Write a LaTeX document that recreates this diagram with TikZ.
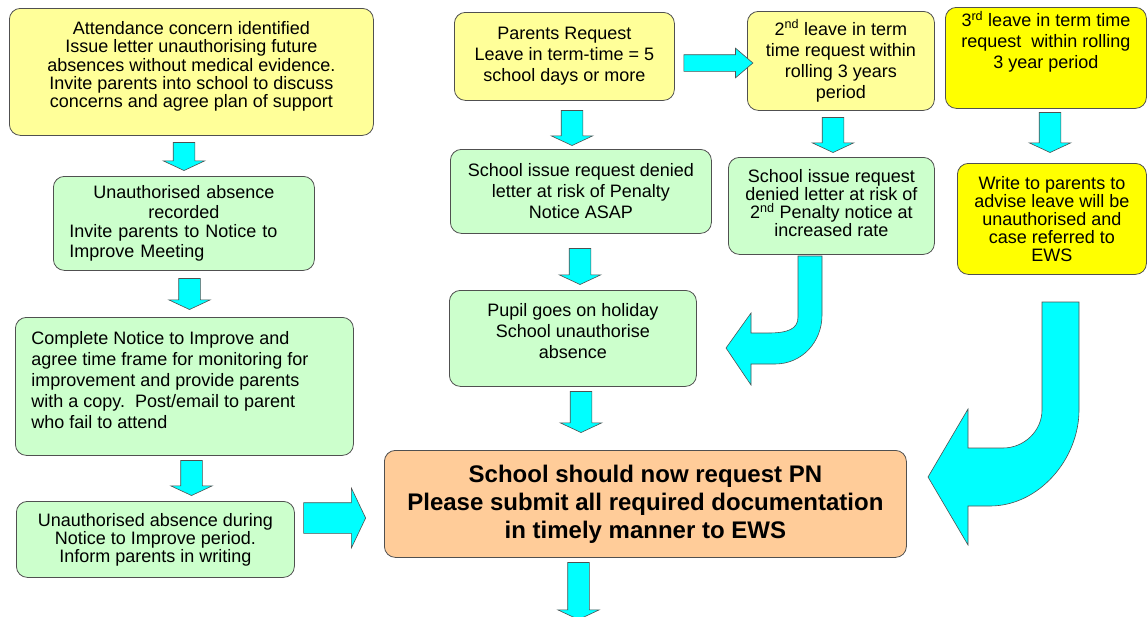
\documentclass[tikz,border=0pt]{standalone}
\usepackage{fontspec}
\setmainfont{Liberation Sans}
\usepackage{tikz}
\usetikzlibrary{shapes.arrows}
\definecolor{paleyellow}{HTML}{FFFF99}
\definecolor{palegreen}{HTML}{CCFFCC}
\definecolor{peach}{HTML}{FFCC99}
\definecolor{brightyellow}{HTML}{FFFF00}
\definecolor{aqua}{HTML}{00FFFF}
\definecolor{boxline}{HTML}{505050}
\tikzstyle{stage} = [rectangle, rounded corners=11pt, draw=boxline, line width=0.8pt, anchor=north west, inner sep=3pt, align=center, font=\fontsize{18}{21}\selectfont]
\tikzstyle{concern} = [stage, fill=paleyellow]
\tikzstyle{action} = [stage, fill=palegreen]
\tikzstyle{alert} = [stage, fill=brightyellow]
\tikzstyle{outcome} = [stage, fill=peach, font=\fontsize{24}{28}\selectfont\bfseries]
\tikzstyle{blockarrow} = [single arrow, draw=boxline, fill=aqua, line width=0.6pt, inner xsep=0pt]
\tikzstyle{downarrow} = [blockarrow, rotate=-90, inner ysep=10.5pt, single arrow head extend=10pt, single arrow tip angle=130]
\tikzstyle{bentarrow} = [draw=boxline, fill=aqua, line width=0.6pt]

\begin{document}
\begin{tikzpicture}[x=1pt, y=-1pt]
\useasboundingbox (0,0) rectangle (1147,616);

% Nodes
\node (attend) [concern, minimum width=364pt, minimum height=127pt, font=\fontsize{18}{18.3}\selectfont] at (9,8) {\parbox[c][121pt][t]{358pt}{\centering\vspace*{10pt}Attendance concern identified\\Issue letter unauthorising future\\absences without medical evidence.\\Invite parents into school to discuss\\concerns and agree plan of support}};
\node (recorded) [action, align=left, text width=229pt, inner xsep=16pt, minimum height=94pt, font=\fontsize{18}{19.7}\selectfont] at (53,176) {{\centering Unauthorised absence\\recorded\par}Invite parents to Notice to\\Improve Meeting};
\node (improve) [action, inner xsep=16pt, minimum width=338pt, minimum height=138pt] at (15,317) {\parbox[c][132pt][t]{306pt}{\raggedright\vspace*{11pt}Complete Notice to Improve and\\agree time frame for monitoring for\\improvement and provide parents\\with a copy.\ \ Post/email to parent\\who fail to attend}};
\node (during) [action, minimum width=278pt, minimum height=76pt, font=\fontsize{18}{18}\selectfont] at (16,501) {Unauthorised absence during\\Notice to Improve period.\\Inform parents in writing};
\node (requestpn) [outcome, minimum width=522pt, minimum height=107pt] at (384,450) {School should now request PN\\Please submit all required documentation\\in timely manner to EWS};
\node (parents) [concern, minimum width=220pt, minimum height=88pt] at (454,12) {Parents Request\\Leave in term-time = 5\\school days or more};
\node (denied) [action, minimum width=261pt, minimum height=84pt] at (450,149) {School issue request denied\\letter at risk of Penalty\\Notice ASAP};
\node (holiday) [action, minimum width=247pt, minimum height=96pt] at (449,290) {\parbox[c][90pt][t]{241pt}{\centering\vspace*{10pt}Pupil goes on holiday\\School unauthorise\\absence}};
\node (second) [concern, minimum width=187pt, minimum height=99pt] at (747,11) {2\textsuperscript{nd} leave in term\\time request within\\rolling 3 years\\period};
\node (denied2) [action, minimum width=206pt, minimum height=97pt, font=\fontsize{18}{18}\selectfont] at (728,157) {\parbox[c][91pt][t]{200pt}{\centering\vspace*{9pt}School issue request\\denied letter at risk of\\2\textsuperscript{nd} Penalty notice at\\increased rate}};
\node (third) [alert, minimum width=201pt, minimum height=101pt] at (945,7) {\parbox[c][93pt][t]{195pt}{\centering 3\textsuperscript{rd} leave in term time\\request\ \ within rolling\\3 year period}};
\node (advise) [alert, minimum width=189pt, minimum height=111pt, font=\fontsize{18}{18}\selectfont] at (957,163) {Write to parents to\\advise leave will be\\unauthorised and\\case referred to\\EWS};

% Arrows
\node (a1) [downarrow, minimum height=28pt] at (184,154) {};
\node (a2) [downarrow, minimum height=31pt] at (189.5,291.5) {};
\node (a3) [downarrow, minimum height=35pt] at (191.5,475.5) {};
\node (a4) [blockarrow, inner ysep=15pt, single arrow head extend=14.5pt, single arrow tip angle=129, minimum height=62pt] at (331,518) {};
\node (b1) [downarrow, minimum height=35pt] at (572,125.5) {};
\node (b2) [downarrow, minimum height=36pt] at (580,264) {};
\node (b3) [downarrow, minimum height=41pt] at (581,409.5) {};
\node (b4) [downarrow, minimum height=57pt] at (578.5,588.5) {};
\node (c1) [blockarrow, inner ysep=8pt, single arrow head extend=6.5pt, single arrow tip angle=81, minimum height=69pt] at (713.5,63) {};
\node (c2) [downarrow, minimum height=35pt] at (833,132.5) {};
\node (d1) [downarrow, minimum height=40pt] at (1050,130) {};

% Bent arrows
\filldraw [bentarrow] (798,256) -- (798,317) .. controls (798,329) and (788,333) .. (768,333) -- (751,333) -- (751,313) -- (726,348) -- (751,385) -- (751,364) -- (775,364) .. controls (802,364) and (822,342) .. (822,315) -- (822,256) -- cycle;
\filldraw [bentarrow] (1042,302) -- (1042,410) .. controls (1042,431) and (1024,448) .. (1003,448) -- (968,448) -- (968,409) -- (928,477) -- (968,545) -- (968,506) -- (990,506) .. controls (1039,506) and (1079,459) .. (1079,410) -- (1079,302) -- cycle;

\end{tikzpicture}
\end{document}
